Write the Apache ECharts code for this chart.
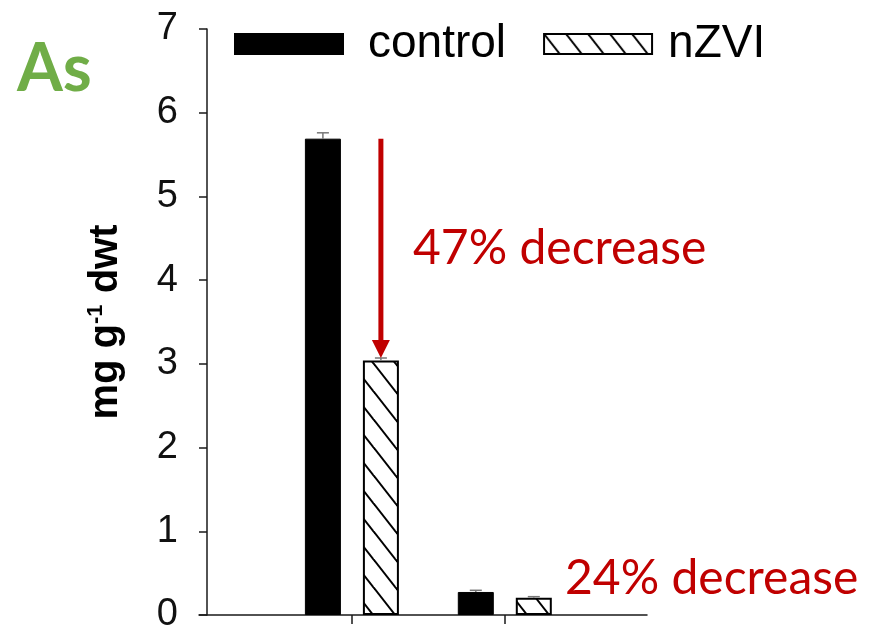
<!DOCTYPE html>
<html>
<head>
<meta charset="utf-8">
<script src="https://cdn.jsdelivr.net/npm/echarts@6/dist/echarts.min.js"></script>
<style>html,body{margin:0;padding:0;background:#fff}#c{width:881px;height:629px}</style>
</head>
<body>
<div id="c"></div>
<script>
// ---- data ----
const groups = [1, 2];                 // x positions of the two (unlabelled) groups
const seriesNames = ['control', 'nZVI'];
const controlValues = [5.69, 0.275];
const nzviValues = [3.04, 0.207];
const controlErr = [0.07, 0.02];
const nzviErr = [0.03, 0.012];
const yTicks = [0, 1, 2, 3, 4, 5, 6, 7];
const annotations = ['47% decrease', '24% decrease'];
const panelLabel = 'As';

// ---- styles ----
const BAR_W = 36, BAR_GAP = 22;
const OFF = (BAR_W + BAR_GAP) / 2;
const AX = '#1a1a1a';
const RED = '#C00000';
const SANS = 'Liberation Sans, Arial, sans-serif';

function makeHatch() {
  const W = 22, H = 28;
  const c = document.createElement('canvas');
  c.width = W; c.height = H;
  const g = c.getContext('2d');
  g.fillStyle = '#fff'; g.fillRect(0, 0, W, H);
  g.strokeStyle = '#000'; g.lineWidth = 2;
  for (let k = -1; k <= 1; k++) {
    g.beginPath();
    g.moveTo(k * W - W, -H);
    g.lineTo(k * W + 2 * W, 2 * H);
    g.stroke();
  }
  return c;
}
const hatch = { image: makeHatch(), repeat: 'repeat' };

const chart = echarts.init(document.getElementById('c'), null, { renderer: 'canvas' });

const option = {
  animation: false,
  backgroundColor: '#fff',
  grid: { left: 199, right: 234, top: 29, bottom: 14, containLabel: false, outerBoundsMode: 'none' },
  legend: {
    data: [
      { name: seriesNames[0] },
      { name: seriesNames[1], textStyle: { padding: [0, 0, 0, 11] } }
    ],
    left: 229, top: 14, icon: 'rect',
    itemWidth: 108, itemHeight: 20, itemGap: 37,
    textStyle: { fontSize: 46, fontFamily: SANS, color: '#000', padding: [0, 0, 0, 20], lineHeight: 50 }
  },
  xAxis: {
    type: 'value', min: 0, max: 2.93, interval: 1,
    axisLine: { show: true, lineStyle: { color: AX, width: 1.5 } },
    axisTick: { show: true, length: 9, lineStyle: { color: AX, width: 1.5 }, customValues: groups },
    axisLabel: { show: false },
    splitLine: { show: false }
  },
  yAxis: {
    type: 'value', min: 0, max: 7, interval: 1, offset: -8,
    axisLine: { show: true, lineStyle: { color: AX, width: 1.5 } },
    axisTick: { show: true, length: 8, lineStyle: { color: AX, width: 1.5 } },
    axisLabel: {
      margin: 29, fontSize: 38, fontFamily: SANS, color: '#111',
      formatter: v => yTicks.includes(v) ? String(v) : ''
    },
    splitLine: { show: false },
    name: '{b|mg g}{s|-1}{b| dwt}',
    nameLocation: 'middle', nameGap: 80, nameRotate: 90,
    nameTextStyle: {
      rich: {
        b: { fontSize: 40, fontWeight: 'bold', fontFamily: SANS, color: '#000', lineHeight: 42 },
        s: { fontSize: 22, fontWeight: 'bold', fontFamily: SANS, color: '#000', verticalAlign: 'top', lineHeight: 42 }
      }
    }
  },
  series: [
    {
      name: 'control', type: 'bar', barWidth: BAR_W, barGap: (BAR_GAP / BAR_W * 100).toFixed(1) + '%',
      itemStyle: { color: '#000', borderColor: '#000', borderWidth: 1 },
      data: groups.map((g, i) => [g, controlValues[i]])
    },
    {
      name: 'nZVI', type: 'bar', barWidth: BAR_W,
      itemStyle: { color: hatch, borderColor: '#000', borderWidth: 2 },
      data: groups.map((g, i) => [g, nzviValues[i]])
    },
    {
      name: 'err', type: 'custom', silent: true, z: 5,
      data: groups.map((g, i) => [g, controlValues[i], controlErr[i], -1])
        .concat(groups.map((g, i) => [g, nzviValues[i], nzviErr[i], 1])),
      renderItem: (params, api) => {
        const x = api.value(0), v = api.value(1), e = api.value(2), s = api.value(3);
        const p = api.coord([x, v]), t = api.coord([x, v + e]);
        const cx = p[0] + s * OFF;
        const st = { stroke: '#777', lineWidth: 1.5 };
        return {
          type: 'group', children: [
            { type: 'line', shape: { x1: cx, y1: p[1], x2: cx, y2: t[1] }, style: st },
            { type: 'line', shape: { x1: cx - 6, y1: t[1], x2: cx + 6, y2: t[1] }, style: st }
          ]
        };
      }
    },
    {
      name: 'arrow', type: 'custom', silent: true, z: 6,
      data: [[groups[0], controlValues[0], nzviValues[0] + nzviErr[0]]],
      renderItem: (params, api) => {
        const x = api.value(0);
        const a = api.coord([x, api.value(1)]), b = api.coord([x, api.value(2)]);
        const cx = a[0] + OFF;
        return {
          type: 'group', children: [
            { type: 'line', shape: { x1: cx, y1: a[1], x2: cx, y2: b[1] - 16 }, style: { stroke: RED, lineWidth: 5 } },
            { type: 'polygon', shape: { points: [[cx - 9, b[1] - 18], [cx + 9, b[1] - 18], [cx, b[1]]] }, style: { fill: RED } }
          ]
        };
      }
    }
  ],
  graphic: [
    { type: 'text', left: 17, top: 37, style: { text: panelLabel, font: 'bold 66px Lato, sans-serif', fill: '#70AD47' } },
    { type: 'text', left: 413, top: 225, style: { text: annotations[0], font: '48px Lato, sans-serif', fill: RED } },
    { type: 'text', left: 565, top: 555, style: { text: annotations[1], font: '48px Lato, sans-serif', fill: RED } }
  ]
};
chart.setOption(option);
</script>
</body>
</html>
